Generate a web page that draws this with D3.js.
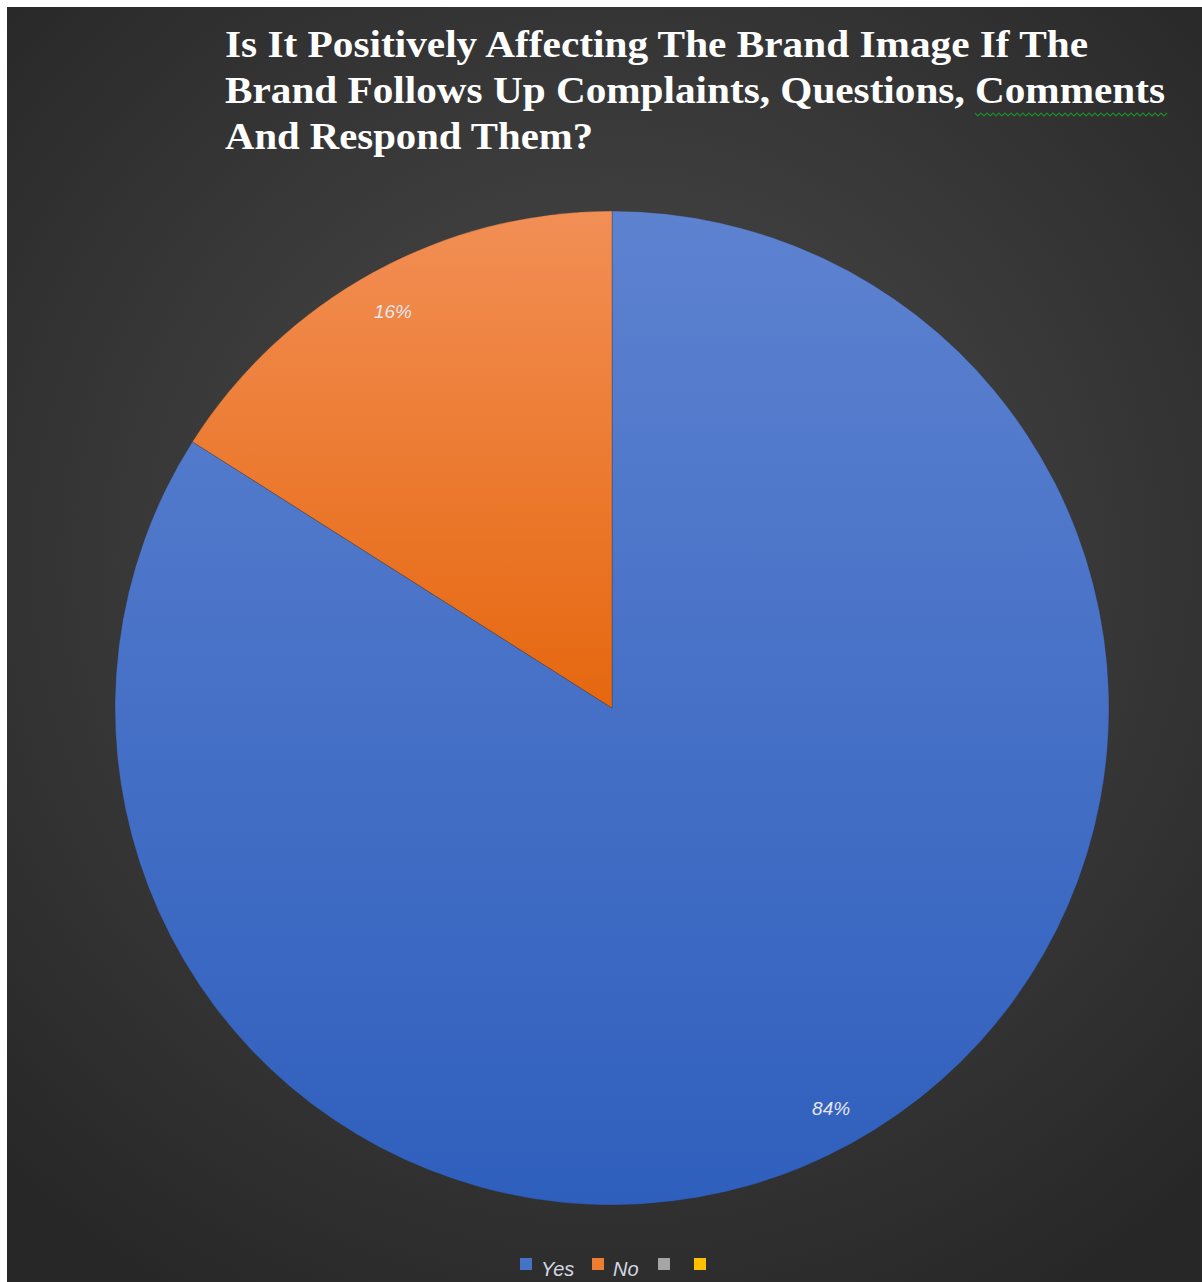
<!DOCTYPE html>
<html>
<head>
<meta charset="utf-8">
<script src="https://cdn.jsdelivr.net/npm/d3@7"></script>
<style>
  html, body { margin: 0; padding: 0; background: #ffffff; }
  svg { display: block; }
</style>
</head>
<body>
<svg id="chart" width="1202" height="1282"></svg>
<script>
// Survey answers: share of respondents
const categories = ["Yes", "No", "", ""];
const values = [84, 16, 0, 0];
const labels = ["84%", "16%", "", ""];
const colors = ["#4472c4", "#ed7d31", "#a5a5a5", "#ffc000"];
const lightColors = ["#5d82d0", "#f28f55", "#b5b5b5", "#ffcf40"];
const darkColors = ["#2f5fbd", "#e6670f", "#8f8f8f", "#e6ad00"];
const titleLines = [
  "Is It Positively Affecting The Brand Image If The",
  "Brand Follows Up Complaints, Questions, Comments",
  "And Respond Them?"
];
const titleWidths = [863, 940, 368];

const W = 1202, H = 1282;
const svg = d3.select("#chart");
const defs = svg.append("defs");

// dark radial backdrop
const bg = defs.append("radialGradient").attr("id", "bgGrad")
  .attr("gradientUnits", "userSpaceOnUse")
  .attr("cx", 610).attr("cy", 560).attr("r", 860);
bg.append("stop").attr("offset", "0%").attr("stop-color", "#4d4d4d");
bg.append("stop").attr("offset", "100%").attr("stop-color", "#272727");

svg.append("rect").attr("x", 7).attr("y", 7)
  .attr("width", W - 7).attr("height", H - 7)
  .attr("fill", "url(#bgGrad)");

// title
const title = svg.append("g").attr("class", "title");
titleLines.forEach((t, i) => {
  title.append("text")
    .attr("x", 225).attr("y", 57 + i * 46)
    .attr("font-family", "'Liberation Serif', 'Times New Roman', serif")
    .attr("font-weight", "bold")
    .attr("font-size", 38)
    .attr("fill", "#ffffff")
    .attr("textLength", titleWidths[i])
    .attr("lengthAdjust", "spacingAndGlyphs")
    .text(t);
});

// proofing squiggle under the last word of line two
const sq = d3.path();
sq.moveTo(975, 113);
for (let x = 975, k = 0; x < 1165; x += 3, k++) sq.lineTo(x + 3, k % 2 ? 113 : 116);
svg.append("path").attr("d", sq.toString())
  .attr("fill", "none").attr("stroke", "#1f8a2a").attr("stroke-width", 1.2);

// pie
const cx = 612, cy = 708, R = 497;
const pie = d3.pie().sort(null).value(d => d.v).startAngle(0).endAngle(2 * Math.PI);
const data = categories.map((c, i) => ({ c, v: values[i], label: labels[i], i }));
const arcs = pie(data);
const arc = d3.arc().innerRadius(0).outerRadius(R);
const labelArc = d3.arc().innerRadius(R * 0.915).outerRadius(R * 0.915);

// each slice shades from light at its top to dark at its bottom
data.forEach((d, i) => {
  const g = defs.append("linearGradient").attr("id", "slice" + i)
    .attr("x1", 0).attr("y1", 0).attr("x2", 0).attr("y2", 1);
  g.append("stop").attr("offset", "0%").attr("stop-color", lightColors[i]);
  g.append("stop").attr("offset", "100%").attr("stop-color", darkColors[i]);
});

const pg = svg.append("g").attr("transform", `translate(${cx},${cy})`);
pg.selectAll("path.slice").data(arcs.filter(a => a.data.v > 0)).join("path")
  .attr("class", "slice")
  .attr("d", arc)
  .attr("fill", d => `url(#slice${d.data.i})`)
  .attr("stroke", "rgba(40,40,40,0.35)")
  .attr("stroke-width", 0.8);

pg.selectAll("text.lbl").data(arcs.filter(a => a.data.v > 0)).join("text")
  .attr("class", "lbl")
  .attr("transform", d => {
    const [x, y] = labelArc.centroid(d);
    return `translate(${x},${y})`;
  })
  .attr("text-anchor", "middle")
  .attr("dy", "0.45em")
  .attr("font-family", "'Liberation Sans', Arial, sans-serif")
  .attr("font-style", "italic")
  .attr("font-size", 19)
  .attr("fill", "#e6e6ee")
  .text(d => d.data.label);

// legend
const legendX = [520, 592, 658, 694];
const lg = svg.append("g").attr("class", "legend");
data.forEach((d, i) => {
  lg.append("rect")
    .attr("x", legendX[i]).attr("y", 1258)
    .attr("width", 12).attr("height", 12)
    .attr("fill", colors[i]);
  if (d.c) {
    lg.append("text")
      .attr("x", legendX[i] + 21).attr("y", 1276)
      .attr("font-family", "'Liberation Sans', Arial, sans-serif")
      .attr("font-style", "italic")
      .attr("font-size", 20)
      .attr("fill", "#d4d8e2")
      .text(d.c);
  }
});
</script>
</body>
</html>
